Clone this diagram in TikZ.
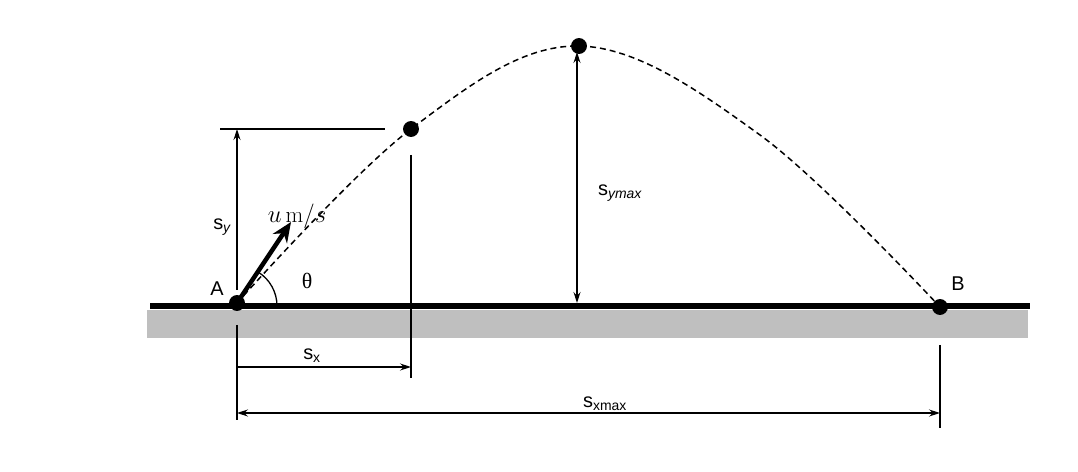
\documentclass[tikz,border=0pt]{standalone}
\usepackage{fontspec}
\setsansfont{Liberation Sans}
\newfontfamily\serifgr{Liberation Serif}
\usetikzlibrary{arrows.meta}
\begin{document}
\begin{tikzpicture}[x=1bp,y=-1bp,
  dim/.style={-{Stealth[length=11pt,width=7pt]},line width=1.3pt},
  dimb/.style={{Stealth[length=11pt,width=7pt]}-{Stealth[length=11pt,width=7pt]},line width=1.3pt},
  ln/.style={line width=1.3pt},
  dot/.style={circle,fill=black,inner sep=0pt,minimum size=16pt},
  lab/.style={font=\sffamily\fontsize{20}{24}\selectfont}]
\useasboundingbox (0,0) rectangle (1078,472);
\fill[black!25] (147,310) rectangle (1028,338);
\draw[line width=6pt] (150,306) -- (1030,306);
\coordinate (A) at (237,303);
\coordinate (P) at (411,129);
\coordinate (T) at (579,46);
\coordinate (B) at (940,307);
\draw[dash pattern=on 6pt off 4pt,line width=1.5pt] plot[smooth,tension=0.6] coordinates {(237,303) (411,129) (579,46) (760,135) (940,307)};
\node[dot] (a) at (A) {};
\node[dot] (p) at (P) {};
\node[dot] (t) at (T) {};
\node[dot] (b) at (B) {};
% velocity
\coordinate (V) at (291,222);
\draw[line width=4.5pt,-{Stealth[length=20pt,width=17pt]}] (A) -- (V);
\coordinate (ar) at (277,306);
\draw[ln] (ar) arc[start angle=0,end angle=-58,radius=40];
% sy
\coordinate (hy1) at (220,129); \coordinate (hy2) at (385,129);
\draw[ln] (hy1) -- (hy2);
\coordinate (sy0) at (237,290); \coordinate (sy1) at (237,129);
\draw[dim] (sy0) -- (sy1);
% symax
\coordinate (my0) at (577,303); \coordinate (my1) at (577,52);
\draw[dimb] (my0) -- (my1);
% verticals
\coordinate (v1) at (411,155); \coordinate (v2) at (411,378);
\draw[ln] (v1) -- (v2);
\coordinate (v3) at (237,325); \coordinate (v4) at (237,420);
\draw[ln] (v3) -- (v4);
\coordinate (v5) at (940,345); \coordinate (v6) at (940,428);
\draw[ln] (v5) -- (v6);
% sx
\coordinate (sx0) at (237,367); \coordinate (sx1) at (411,367);
\draw[dim] (sx0) -- (sx1);
\coordinate (sm0) at (237,413); \coordinate (sm1) at (940,413);
\draw[dimb] (sm0) -- (sm1);
% labels
\node[lab] (lsy) at (222,227) {s\textsubscript{\itshape y}};
\node[font=\fontsize{23}{27}\selectfont] (lu) at (297,216) {$u\,\mathrm{m}/s$};
\node[font=\serifgr\fontsize{22}{26}\selectfont] (lth) at (307,281) {θ};
\node[lab] (lA) at (217,289) {A};
\node[lab] (lB) at (958,284) {B};
\node[lab] (lsx) at (312,356) {s\textsubscript{x}};
\node[lab] (lsym) at (620,193) {s\textsubscript{\itshape ymax}};
\node[lab] (lsxm) at (605,404) {s\textsubscript{xmax}};
\end{tikzpicture}
\end{document}
